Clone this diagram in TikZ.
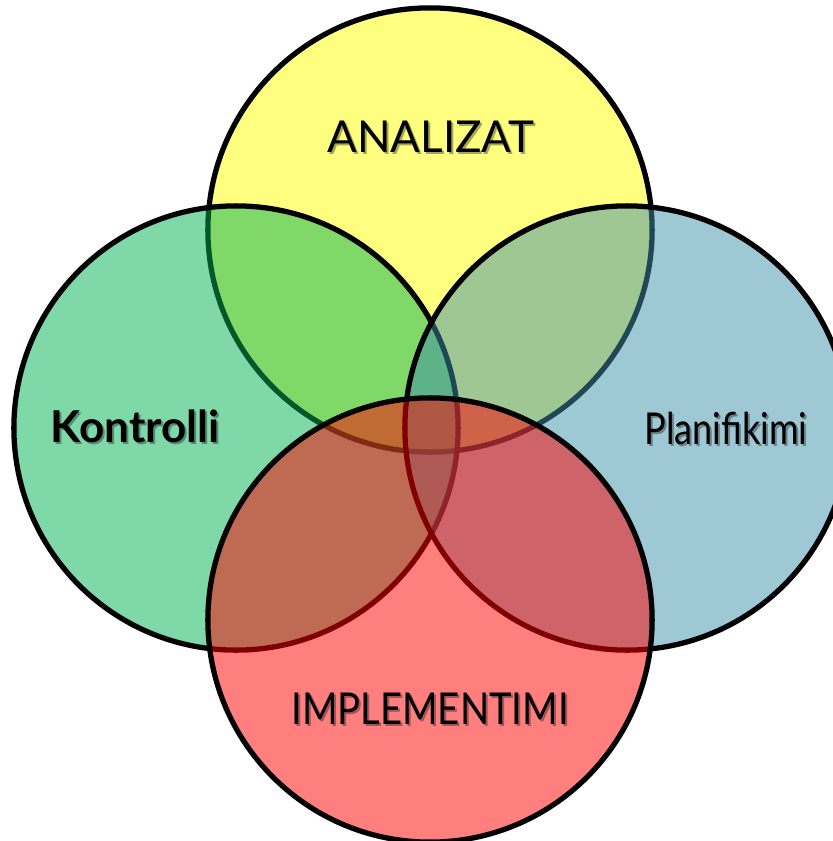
\documentclass[tikz,border=0pt]{standalone}
\usepackage{fontspec}
\setmainfont{Lato}
\usetikzlibrary{positioning}
\tikzset{venn/.style={circle, draw=black, line width=1.5pt, minimum size=4.44cm, inner sep=0pt, fill opacity=0.5}}
\tikzset{lbl/.style={inner sep=0pt, font=\fontsize{12.5}{14}\selectfont}}
\tikzset{lblshadow/.style={lbl, text=black, text opacity=0.35}}
\definecolor{vyellow}{RGB}{255,255,0}
\definecolor{vgreen}{RGB}{0,177,80}
\definecolor{vblue}{RGB}{62,145,168}
\definecolor{vred}{RGB}{255,0,0}

\begin{document}
\begin{tikzpicture}[x=0.01cm, y=-0.01cm]
	\clip (0,0) rectangle (833,841);
	\useasboundingbox (0,0) rectangle (833,841);
	% the four circles, drawn one on the other
	\node[venn, fill=vyellow] (ana) at (430,230) {};
	\node[venn, fill=vgreen] (kon) at (236,428) {};
	\node[venn, fill=vblue] (pla) at (627,428) {};
	\node[venn, fill=vred] (imp) at (430,620) {};
	% labels, with a soft shadow under them
	\node[lblshadow] (ana-s) at (433,139) {ANALIZAT};
	\node[lbl] (ana-t) at (431,137) {ANALIZAT};
	\node[lblshadow] (kon-s) at (137,428) {\bfseries Kontrolli};
	\node[lbl] (kon-t) at (135,426) {\bfseries Kontrolli};
	\node[lblshadow] (pla-s) at (728,430) {\scalebox{0.82}[1]{Planifikimi}};
	\node[lbl] (pla-t) at (726,428) {\scalebox{0.82}[1]{Planifikimi}};
	\node[lblshadow] (imp-s) at (432,711) {\scalebox{0.87}[1]{IMPLEMENTIMI}};
	\node[lbl] (imp-t) at (430,709) {\scalebox{0.87}[1]{IMPLEMENTIMI}};
\end{tikzpicture}
\end{document}
